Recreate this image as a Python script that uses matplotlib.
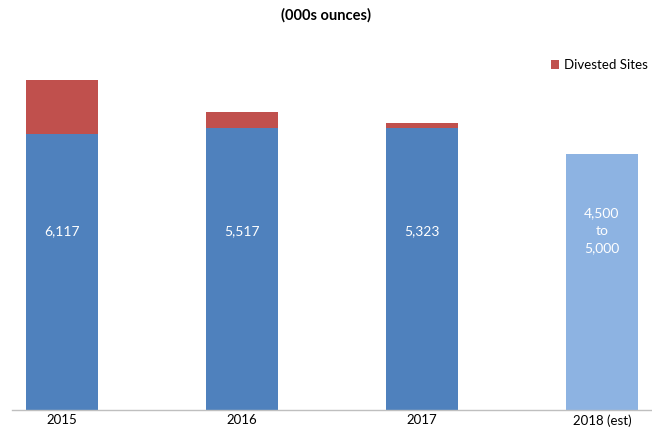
import matplotlib
matplotlib.use("Agg")
import matplotlib.pyplot as plt
import numpy as np

plt.rcParams['font.family'] = ['Lato', 'DejaVu Sans']

years = ["2015", "2016", "2017", "2018 (est)"]
totals = [6117, 5517, 5323, 4750]          # 2018 shown as midpoint of guidance range
divested = [1000, 285, 104, 0]
bar_labels = ["6,117", "5,517", "5,323", "4,500\nto\n5,000"]

continuing = [t - d for t, d in zip(totals, divested)]

blue = "#4F81BD"
light_blue = "#8DB3E2"
red = "#C0504D"

fig = plt.figure(figsize=(6.52, 4.29), dpi=100)
W, H = 652, 429
ax = fig.add_axes([12 / W, 19 / H, 640 / W, 350.8 / H])

x = np.arange(len(years))
colors = [blue, blue, blue, light_blue]
ax.bar(x, continuing, width=0.4, color=colors, zorder=2)
div_bars = ax.bar(x[:3], divested[:3], bottom=continuing[:3], width=0.4,
                  color=red, zorder=2, label="Divested Sites")

for xi, lab in zip(x, bar_labels):
    ax.text(xi, 3320, lab, ha="center", va="center", color="white",
            fontsize=10, linespacing=1.55)

ax.set_xlim(-0.278, 3.278)
ax.set_ylim(0, 6500)
ax.set_xticks(x)
ax.set_xticklabels(years, fontsize=9.5)
ax.tick_params(axis="x", length=0, pad=3)
ax.set_yticks([])
for s in ["top", "right", "left"]:
    ax.spines[s].set_visible(False)
ax.spines["bottom"].set_color("#BFBFBF")
ax.spines["bottom"].set_linewidth(1.0)

fig.text(0.5, 1 - 15 / H, "(000s ounces)", ha="center", va="center",
         fontsize=10.5, fontweight="bold")

fig.legend(handles=[div_bars], loc="center left",
           bbox_to_anchor=(546 / W, 1 - 65 / H), frameon=False,
           fontsize=9.5, handlelength=0.6, handleheight=0.6,
           handletextpad=0.4, borderaxespad=0)

fig.savefig("out.png", dpi=100)
